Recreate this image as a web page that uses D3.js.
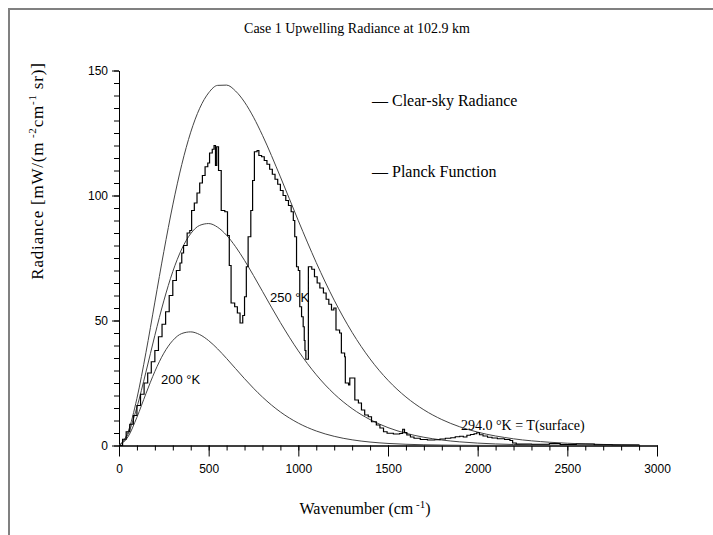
<!DOCTYPE html>
<html>
<head>
<meta charset="utf-8">
<script src="https://cdnjs.cloudflare.com/ajax/libs/d3/7.8.5/d3.min.js"></script>
<style>
body { margin: 0; background: #fff; }
svg { display: block; }
</style>
</head>
<body>
<svg width="713" height="535"></svg>
<script>
// planck curves (wavenumber in cm-1, radiance in mW/(m2 cm-1 sr))
const planckWave = [0, 50, 100, 150, 200, 250, 300, 350, 400, 450, 500, 550, 600, 650, 700, 750, 800,
  900, 1000, 1100, 1200, 1300, 1400, 1500, 1600, 1700, 1800, 1900, 2000, 2200, 2400, 2600, 2800, 2900];
const planck294 = [0, 5.37, 18.87, 37.10, 57.36, 77.58, 96.25, 112.37, 125.33, 134.90, 141.08, 144.05, 144.16, 141.78, 137.36, 131.32, 124.08,
  107.45, 89.91, 73.15, 58.12, 45.25, 34.62, 26.09, 19.41, 14.27, 10.38, 7.48, 5.35, 2.68, 1.31, 0.62, 0.29, 0.20];
const planck250 = [0, 4.47, 15.31, 29.32, 44.08, 57.87, 69.59, 78.62, 84.75, 88.05, 88.78, 87.31, 84.08, 79.52, 74.04, 67.98, 61.67,
  49.17, 37.84, 28.29, 20.63, 14.75, 10.36, 7.16, 4.89, 3.30, 2.20, 1.46, 0.96, 0.40, 0.17, 0.07, 0.03, 0.02];
const planck200 = [0, 3.44, 11.31, 20.70, 29.63, 36.92, 42.01, 44.79, 45.45, 44.37, 41.95, 38.64, 34.81, 30.76, 26.73, 22.90, 19.37,
  13.41, 8.95, 5.80, 3.67, 2.27, 1.38, 0.83, 0.49, 0.29, 0.17, 0.09, 0.05, 0.02, 0.01, 0, 0, 0];

// clear-sky radiance (stepped)
const clearWave = [0, 20, 40, 60, 80, 100, 120, 140, 160, 180, 200, 220, 240, 260, 280, 300, 320, 340, 350, 360, 380, 395,
  405, 420, 435, 450, 465, 480, 495, 505, 520, 530, 538, 545, 555, 570, 590, 605, 615, 625, 645, 660, 675, 690,
  700, 710, 720, 735, 745, 755, 770, 780, 795, 810, 825, 840, 855, 870, 885, 900, 915, 930, 945, 960, 972, 980,
  990, 1000, 1008, 1018, 1027, 1033, 1037, 1042, 1056, 1075, 1090, 1105, 1120, 1140, 1155, 1170, 1185, 1198, 1210,
  1230, 1240, 1258, 1262, 1280, 1287, 1305, 1315, 1335, 1352, 1370, 1390, 1408, 1435, 1455, 1475, 1495, 1530, 1565,
  1582, 1592, 1605, 1625, 1645, 1680, 1720, 1760, 1790, 1820, 1850, 1875, 1900, 1920, 1940, 1960, 1980, 1995, 2010,
  2030, 2055, 2080, 2110, 2150, 2180, 2195, 2215, 2300, 2400, 2460, 2550, 2650, 2750, 2900];
const clearRad = [0, 2.5, 5.5, 8.5, 12, 16, 20.5, 25, 29, 33.5, 38, 43.5, 48.5, 53.5, 60, 66, 70, 73, 77, 80, 85, 86,
  94, 97, 101, 105, 108, 111.5, 113, 117, 118.5, 120, 112, 119.5, 110, 94, 93.5, 84, 72, 57, 55.5, 53, 49, 52,
  59.5, 71.5, 83.5, 94, 106, 117.5, 118, 116, 115.5, 114, 112.5, 110.5, 108.5, 106.5, 104.5, 102, 100, 98, 96, 93.5, 90, 83.5,
  71.5, 70, 55.5, 51.5, 47.5, 42, 38, 34.5, 71.5, 70.5, 67.5, 65, 63, 61, 58.5, 56.5, 54.2, 55, 46.2,
  45, 37, 35.5, 25, 24.2, 27, 27, 18.2, 17, 14.2, 12.2, 11.5, 9.5, 8.2, 7, 5.5, 4.9, 4.6, 4.8,
  6.5, 5.2, 4.2, 3.4, 2.9, 2.4, 2.2, 2.3, 2.6, 2.9, 3.1, 3.5, 3.7, 3.4, 4.1, 4.4, 4.7, 5.1, 4.3,
  3.8, 3.3, 3.0, 2.7, 2.4, 2.0, 1.0, 0.6, 0.5, 0.8, 0.4, 0.6, 0.3, 0.2, 0];

const xMajor = [0, 500, 1000, 1500, 2000, 2500, 3000];
const yMajor = [0, 50, 100, 150];

const svg = d3.select("svg");
let margin = {top: 70.5, left: 119, right: 56, bottom: 89.5};
let w = 713, h = 535;

var xScale = d3.scaleLinear().domain([0, 3000]).range([margin.left, w - margin.right]);
var yScale = d3.scaleLinear().domain([0, 150]).range([h - margin.bottom, margin.top]);

// window-ish frame on top and left
svg.append("path")
  .attr("d", "M9,535 V9 H713")
  .attr("fill", "none")
  .attr("stroke", "#808080")
  .attr("stroke-width", 2);

svg.append("text")
  .attr("x", 357).attr("y", 33)
  .attr("text-anchor", "middle")
  .style("font-family", "'Liberation Serif', serif")
  .style("font-size", "14px")
  .text("Case 1 Upwelling Radiance at 102.9 km");

// axes, minor ticks first then the labelled ones
const xMinor = d3.axisBottom(xScale).ticks(30).tickSize(5).tickSizeOuter(0).tickFormat("");
const xAxis = d3.axisBottom(xScale).tickValues(xMajor).tickSize(11).tickSizeOuter(0).tickPadding(8).tickFormat(d3.format("d"));
const yMinor = d3.axisLeft(yScale).ticks(30).tickSize(5).tickSizeOuter(0).tickFormat("");
const yAxis = d3.axisLeft(yScale).tickValues(yMajor).tickSize(7).tickSizeOuter(0).tickPadding(4).tickFormat(d3.format("d"));

svg.append("g").attr("transform", "translate(0," + yScale(0) + ")").call(xMinor);
svg.append("g").attr("transform", "translate(0," + yScale(0) + ")").call(xAxis);
svg.append("g").attr("transform", "translate(" + xScale(0) + ",0)").call(yMinor);
svg.append("g").attr("transform", "translate(" + xScale(0) + ",0)").call(yAxis);
svg.selectAll(".tick text")
  .style("font-family", "'Liberation Sans', Arial, sans-serif")
  .style("font-size", "12px")
  .attr("fill", "#000");

// axis titles
svg.append("text")
  .attr("x", 365).attr("y", 514)
  .attr("text-anchor", "middle")
  .style("font-family", "'Liberation Serif', serif")
  .style("font-size", "16px")
  .call(t => {
    t.append("tspan").text("Wavenumber (cm");
    t.append("tspan").attr("dy", -6).style("font-size", "11px").text(" -1");
    t.append("tspan").attr("dy", 6).text(")");
  });

svg.append("text")
  .attr("transform", "translate(43,171) rotate(-90)")
  .attr("text-anchor", "middle")
  .style("font-family", "'Liberation Serif', serif")
  .style("font-size", "17px")
  .style("letter-spacing", "0.8px")
  .call(t => {
    t.append("tspan").text("Radiance [mW/(m");
    t.append("tspan").attr("dy", -7).style("font-size", "11px").text(" -2");
    t.append("tspan").attr("dy", 7).text("cm");
    t.append("tspan").attr("dy", -7).style("font-size", "11px").text("-1");
    t.append("tspan").attr("dy", 7).text("  sr)]");
  });

// planck curves
const planckLine = d3.line()
  .x((d, i) => xScale(planckWave[i]))
  .y(d => yScale(d))
  .curve(d3.curveMonotoneX);
[planck294, planck250, planck200].forEach(arr => {
  svg.append("path")
    .datum(arr)
    .attr("d", planckLine)
    .attr("fill", "none")
    .attr("stroke", "#444")
    .attr("stroke-width", 1);
});

// clear sky radiance as steps
const clearLine = d3.line()
  .x((d, i) => xScale(clearWave[i]))
  .y(d => yScale(d))
  .curve(d3.curveStepAfter);
svg.append("path")
  .datum(clearRad)
  .attr("d", clearLine)
  .attr("fill", "none")
  .attr("stroke", "#000")
  .attr("stroke-width", 1.2);

// legend
svg.append("text").attr("x", 372).attr("y", 106)
  .style("font-family", "'Liberation Serif', serif").style("font-size", "16px")
  .text("\u2014 Clear-sky Radiance");
svg.append("text").attr("x", 372).attr("y", 177)
  .style("font-family", "'Liberation Serif', serif").style("font-size", "16px")
  .text("\u2014 Planck Function");

// curve labels
svg.append("text").attr("x", 270).attr("y", 302)
  .style("font-family", "'Liberation Sans', Arial, sans-serif").style("font-size", "13px")
  .text("250 \u00b0K");
svg.append("text").attr("x", 161).attr("y", 384)
  .style("font-family", "'Liberation Sans', Arial, sans-serif").style("font-size", "13px")
  .text("200 \u00b0K");
svg.append("text").attr("x", 461).attr("y", 430)
  .style("font-family", "'Liberation Serif', serif").style("font-size", "14px")
  .text("294.0 \u00b0K = T(surface)");
</script>
</body>
</html>
